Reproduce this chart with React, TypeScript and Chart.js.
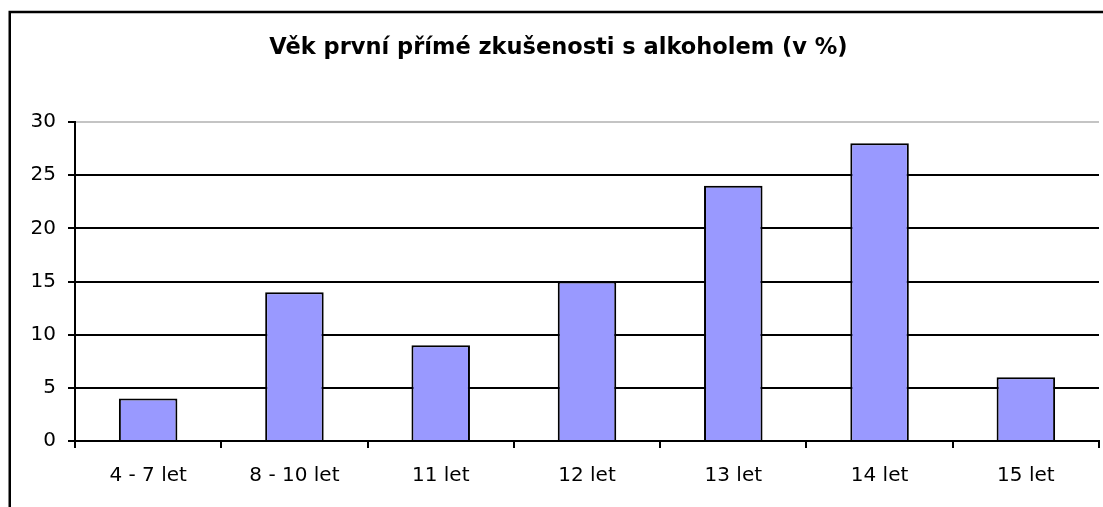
import React, { useEffect, useRef } from "react";
import { Chart, registerables } from "chart.js";

Chart.register(...registerables);

const categories = ["4 - 7 let", "8 - 10 let", "11 let", "12 let", "13 let", "14 let", "15 let"];
const values = [4, 14, 9, 15, 24, 28, 6];
const titleText = "Věk první přímé zkušenosti s alkoholem (v %)";
const yMin = 0;
const yMax = 30;
const yStep = 5;

const FONT = "'DejaVu Sans', Arial, sans-serif";

const framePlugin = {
  id: "frame",
  beforeDraw(chart: any) {
    const ctx = chart.ctx;
    ctx.save();
    ctx.fillStyle = "#ffffff";
    ctx.fillRect(0, 0, chart.width, chart.height);
    ctx.strokeStyle = "#000000";
    ctx.lineWidth = 2.5;
    ctx.beginPath();
    ctx.moveTo(9.75, chart.height + 2);
    ctx.lineTo(9.75, 12);
    ctx.lineTo(chart.width + 2, 12);
    ctx.stroke();
    ctx.restore();
  },
};

export default function App() {
  const ref = useRef<HTMLCanvasElement | null>(null);
  useEffect(() => {
    if (!ref.current) return;
    const chart = new Chart(ref.current, {
      type: "bar",
      data: {
        labels: categories,
        datasets: [
          {
            data: values,
            backgroundColor: "#9999ff",
            borderColor: "#000000",
            borderWidth: 2,
            barPercentage: 0.4,
            categoryPercentage: 1,
          },
        ],
      },
      plugins: [framePlugin],
      options: {
        animation: false,
        responsive: false,
        maintainAspectRatio: false,
        layout: { padding: { left: 18, right: 4, top: 0, bottom: 0 } },
        plugins: {
          legend: { display: false },
          tooltip: { enabled: false },
          title: {
            display: true,
            text: titleText,
            color: "#000000",
            font: { family: FONT, size: 22.5, weight: "bold", lineHeight: 1.2 },
            padding: { top: 35, bottom: 60 },
          },
        },
        scales: {
          x: {
            afterFit: (s: any) => {
              s.height = 66;
            },
            grid: {
              offset: true,
              drawOnChartArea: false,
              drawTicks: true,
              tickLength: 7,
              color: "#000000",
              lineWidth: 2,
            },
            border: { color: "#000000", width: 2 },
            ticks: {
              color: "#000000",
              padding: 16,
              font: { family: FONT, size: 20 },
              maxRotation: 0,
            },
          },
          y: {
            min: yMin,
            max: yMax,
            afterFit: (s: any) => {
              s.width = 57;
            },
            grid: {
              color: (c: any) => (c.tick && c.tick.value === yMax ? "#c4c4c4" : "#000000"),
              lineWidth: 2,
              tickColor: "#000000",
              tickLength: 7,
              drawTicks: true,
            },
            border: { color: "#000000", width: 2 },
            ticks: {
              stepSize: yStep,
              color: "#000000",
              padding: 12,
              font: { family: FONT, size: 20 },
            },
          },
        },
      },
    });
    return () => chart.destroy();
  }, []);
  return (
    <div style={{ position: "fixed", left: 0, top: 0, width: 1103, height: 507, background: "#fff" }}>
      <canvas ref={ref} width={1103} height={507} style={{ width: 1103, height: 507, display: "block" }} />
    </div>
  );
}
